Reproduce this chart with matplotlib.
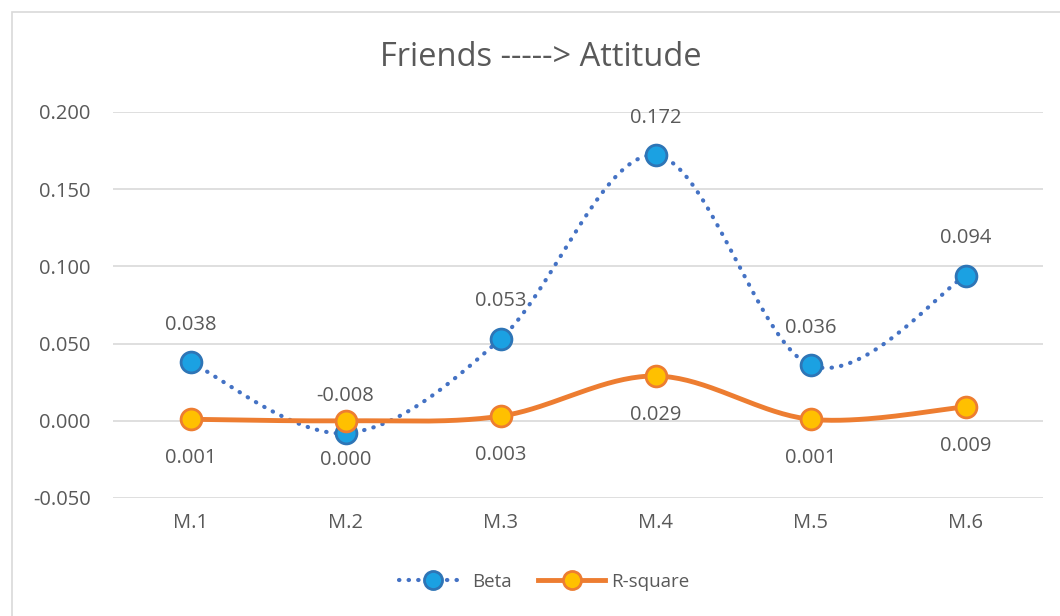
import matplotlib
matplotlib.use("Agg")
from matplotlib import pyplot as plt
from matplotlib.patches import Rectangle
import numpy as np

# data
categories = ["M.1", "M.2", "M.3", "M.4", "M.5", "M.6"]
beta = [0.038, -0.008, 0.053, 0.172, 0.036, 0.094]
r_square = [0.001, 0.000, 0.003, 0.029, 0.001, 0.009]
y_ticks = [-0.050, 0.000, 0.050, 0.100, 0.150, 0.200]

plt.rcParams['font.family'] = ['Open Sans', 'DejaVu Sans']
TEXT = "#595959"


def smooth(xs, ys, n=40):
    # excel-like smoothed line: cubic bezier through each point pair
    xs = np.asarray(xs, float)
    ys = np.asarray(ys, float)
    px = np.concatenate([[xs[0]], xs, [xs[-1]]])
    py = np.concatenate([[ys[0]], ys, [ys[-1]]])
    out_x, out_y = [], []
    t = np.linspace(0, 1, n)
    for i in range(1, len(px) - 2):
        p0 = np.array([px[i], py[i]])
        p3 = np.array([px[i + 1], py[i + 1]])
        p1 = p0 + (np.array([px[i + 1], py[i + 1]]) - np.array([px[i - 1], py[i - 1]])) / 6.0
        p2 = p3 - (np.array([px[i + 2], py[i + 2]]) - np.array([px[i], py[i]])) / 6.0
        b = ((1 - t) ** 3)[:, None] * p0 + (3 * (1 - t) ** 2 * t)[:, None] * p1 \
            + (3 * (1 - t) * t ** 2)[:, None] * p2 + (t ** 3)[:, None] * p3
        out_x.extend(b[:, 0])
        out_y.extend(b[:, 1])
    return out_x, out_y


fig = plt.figure(figsize=(10.6, 6.16), dpi=100)
# chart border
fig.patches.append(Rectangle((12 / 1060, -0.05), 1.1, (616 - 12) / 616 + 0.05,
                             transform=fig.transFigure, fill=False,
                             edgecolor="#d9d9d9", linewidth=1.2))

ax = fig.add_axes([113 / 1060, 1 - 498 / 616, (1043 - 113) / 1060, (498 - 112) / 616])
x = np.arange(len(categories))
ax.set_xlim(-0.5, len(categories) - 0.5)
ax.set_ylim(-0.050, 0.200)

for v in y_ticks:
    ax.axhline(v, color="#d9d9d9", linewidth=1.2, zorder=0)

for s in ax.spines.values():
    s.set_visible(False)
ax.set_yticks(y_ticks)
ax.set_yticklabels(["%.3f" % v for v in y_ticks], color=TEXT, fontsize=14.5)
ax.set_xticks(x)
ax.set_xticklabels(categories, color=TEXT, fontsize=14.5)
ax.tick_params(length=0)
ax.tick_params(axis='y', pad=16)
ax.tick_params(axis='x', pad=11)

# Beta: dotted smoothed line
bx, by = smooth(x, beta)
ax.plot(bx, by, color="#4472C4", linewidth=3, linestyle=(0, (0.1, 2.2)),
        dash_capstyle="round", zorder=3)
ax.plot(x, beta, linestyle="none", marker="o", markersize=15,
        markerfacecolor="#1BA1E2", markeredgecolor="#2E75B6", markeredgewidth=2, zorder=4)

# R-square: solid smoothed line
rx, ry = smooth(x, r_square)
ax.plot(rx, ry, color="#ED7D31", linewidth=3.5, solid_capstyle="round", zorder=5)
ax.plot(x, r_square, linestyle="none", marker="o", markersize=15,
        markerfacecolor="#FFC000", markeredgecolor="#ED7D31", markeredgewidth=2, zorder=6)

for xi, b, r in zip(x, beta, r_square):
    ax.annotate("%.3f" % b, (xi, b), xytext=(0, 27), textcoords="offset points",
                ha="center", va="center", color=TEXT, fontsize=14.5, zorder=7)
    ax.annotate("%.3f" % r, (xi, r), xytext=(0, -28), textcoords="offset points",
                ha="center", va="center", color=TEXT, fontsize=14.5, zorder=7)

fig.text(541 / 1060, 1 - 57 / 616, "Friends -----> Attitude", ha="center", va="center",
         color=TEXT, fontsize=23.5)

# legend
h1, = ax.plot([], [], color="#4472C4", linewidth=3, linestyle=(0, (0.1, 2.2)),
              dash_capstyle="round", marker="o", markersize=13,
              markerfacecolor="#1BA1E2", markeredgecolor="#2E75B6", markeredgewidth=2)
h2, = ax.plot([], [], color="#ED7D31", linewidth=3.5, marker="o", markersize=13,
              markerfacecolor="#FFC000", markeredgecolor="#ED7D31", markeredgewidth=2)
fig.legend([h1, h2], ["Beta", "R-square"], loc="center", bbox_to_anchor=(544 / 1060, 1 - 582 / 616),
           ncol=2, frameon=False, fontsize=13.5, labelcolor=TEXT, handlelength=3.6,
           handletextpad=0.3, columnspacing=1.4)

fig.savefig("out.png", dpi=100, facecolor="white")
